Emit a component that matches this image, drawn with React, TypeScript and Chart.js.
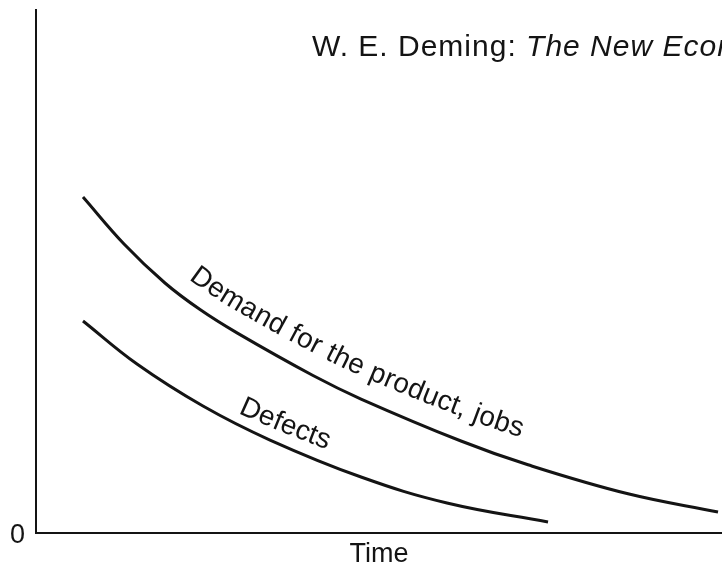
import React, { useEffect, useRef } from "react";
import { Chart, registerables } from "chart.js";

Chart.register(...registerables);

// ---- data ----
const demandX = [6.85, 12.83, 18.8, 23.91, 29.3, 40.38, 47.38, 61.95, 71.72, 86.3, 99.42];
const demandY = [64.24, 55.26, 47.8, 42.72, 38.26, 30.11, 25.62, 17.59, 13.04, 7.5, 4.02];
const defectsX = [6.85, 14.72, 24.34, 34.11, 47.38, 59.91, 74.64];
const defectsY = [40.54, 32.31, 24.28, 17.78, 10.71, 5.74, 2.1];
const seriesLabels = ["Demand for the product, jobs", "Defects"];
const yTickLabels = ["0"];
const xAxisTitle = "Time";
const titleNormal = "W. E. Deming: ";
const titleItalic = "The New Economics";

const FONT = "'Liberation Sans', Arial, Helvetica, sans-serif";
const INK = "#141414";

// label placement along the curves (start in data x, offset from curve in px)
const curveLabelCfg = [
  { startX: 22.2, d0: 18, d1: 24, size: 28, spacing: 0.3 },
  { startX: 29.4, d0: 11, d1: 14, size: 28, spacing: 0.2 },
];

const curveLabelPlugin = {
  id: "curveLabels",
  afterDatasetsDraw(chart: any) {
    const ctx = chart.ctx as CanvasRenderingContext2D;
    const xScale = chart.scales.x;
    chart.data.datasets.forEach((ds: any, i: number) => {
      const cfg = curveLabelCfg[i];
      if (!cfg) return;
      const pts = chart.getDatasetMeta(i).data as any[];
      const base: { x: number; y: number }[] = [];
      for (let k = 0; k < pts.length - 1; k++) {
        const a = pts[k];
        const b = pts[k + 1];
        const c1x = a.cp2x ?? a.x, c1y = a.cp2y ?? a.y;
        const c2x = b.cp1x ?? b.x, c2y = b.cp1y ?? b.y;
        for (let s = 0; s < 40; s++) {
          const t = s / 40;
          const mt = 1 - t;
          base.push({
            x: mt * mt * mt * a.x + 3 * mt * mt * t * c1x + 3 * mt * t * t * c2x + t * t * t * b.x,
            y: mt * mt * mt * a.y + 3 * mt * mt * t * c1y + 3 * mt * t * t * c2y + t * t * t * b.y,
          });
        }
      }
      const last = pts[pts.length - 1];
      base.push({ x: last.x, y: last.y });

      const text: string = ds.label;
      ctx.save();
      ctx.font = `${cfg.size}px ${FONT}`;
      const totalW = ctx.measureText(text).width;
      const startPx = xScale.getPixelForValue(cfg.startX);
      const off: { x: number; y: number }[] = [];
      for (let k = 0; k < base.length; k++) {
        const p0 = base[Math.max(0, k - 1)];
        const p1 = base[Math.min(base.length - 1, k + 1)];
        let tx = p1.x - p0.x, ty = p1.y - p0.y;
        const len = Math.hypot(tx, ty) || 1;
        tx /= len; ty /= len;
        const nx = ty, ny = -tx;
        const frac = Math.min(1, Math.max(0, (base[k].x - startPx) / (totalW * 0.9)));
        const d = cfg.d0 + (cfg.d1 - cfg.d0) * frac;
        off.push({ x: base[k].x + nx * d, y: base[k].y + ny * d });
      }
      const cum: number[] = [0];
      for (let k = 1; k < off.length; k++) {
        cum.push(cum[k - 1] + Math.hypot(off[k].x - off[k - 1].x, off[k].y - off[k - 1].y));
      }
      let startIdx = off.findIndex((p) => p.x >= startPx);
      if (startIdx < 0) startIdx = 0;
      const s0 = cum[startIdx];
      const at = (s: number) => {
        let k = 1;
        while (k < cum.length - 1 && cum[k] < s) k++;
        const a = off[Math.max(0, k - 2)], b = off[Math.min(off.length - 1, k + 1)];
        const a1 = off[k - 1], b1 = off[k];
        const seg = cum[k] - cum[k - 1] || 1;
        const t = Math.min(1, Math.max(0, (s - cum[k - 1]) / seg));
        return { x: a1.x + (b1.x - a1.x) * t, y: a1.y + (b1.y - a1.y) * t, ang: Math.atan2(b.y - a.y, b.x - a.x) };
      };
      ctx.fillStyle = INK;
      ctx.textAlign = "center";
      ctx.textBaseline = "alphabetic";
      let s = s0;
      for (const ch of text) {
        const w = ctx.measureText(ch).width + cfg.spacing;
        const p = at(s + w / 2);
        ctx.save();
        ctx.translate(p.x, p.y);
        ctx.rotate(p.ang);
        ctx.fillText(ch, 0, 0);
        ctx.restore();
        s += w;
      }
      ctx.restore();
    });
  },
};

const titlePlugin = {
  id: "mixedTitle",
  afterDraw(chart: any) {
    const ctx = chart.ctx as any;
    ctx.save();
    ctx.fillStyle = INK;
    ctx.textAlign = "left";
    ctx.textBaseline = "alphabetic";
    ctx.letterSpacing = "1px";
    const x = 312;
    const y = 56;
    ctx.font = `30px ${FONT}`;
    ctx.fillText(titleNormal, x, y);
    const w = ctx.measureText(titleNormal).width;
    ctx.font = `italic 30px ${FONT}`;
    ctx.fillText(titleItalic, x + w, y);
    ctx.restore();
  },
};

export default function App() {
  const ref = useRef<HTMLCanvasElement | null>(null);
  useEffect(() => {
    if (!ref.current) return;
    const toPts = (xs: number[], ys: number[]) => xs.map((x, i) => ({ x, y: ys[i] }));
    const chart = new Chart(ref.current, {
      type: "line",
      data: {
        datasets: [
          {
            label: seriesLabels[0],
            data: toPts(demandX, demandY),
            borderColor: INK,
            borderWidth: 3,
            pointRadius: 0,
            fill: false,
            tension: 0.4,
          },
          {
            label: seriesLabels[1],
            data: toPts(defectsX, defectsY),
            borderColor: INK,
            borderWidth: 3,
            pointRadius: 0,
            fill: false,
            tension: 0.4,
          },
        ],
      },
      options: {
        responsive: false,
        animation: false,
        layout: { padding: { top: 10, left: 0, right: 0, bottom: 0 } },
        plugins: {
          legend: { display: false },
          title: { display: false },
          tooltip: { enabled: false },
        },
        scales: {
          x: {
            type: "linear",
            min: 0,
            max: 100,
            grid: { display: false, drawTicks: false },
            border: { display: true, color: INK, width: 2 },
            ticks: { display: false },
            title: {
              display: true,
              text: xAxisTitle,
              color: INK,
              font: { family: FONT, size: 27, lineHeight: 1 },
              padding: { top: 0, bottom: 0 },
            },
            afterFit: (scale: any) => {
              scale.height = 35;
              scale.paddingLeft = 0;
              scale.paddingRight = 0;
              scale.paddingTop = 0;
              scale.paddingBottom = 0;
            },
          },
          y: {
            type: "linear",
            min: 0,
            max: 100,
            grid: { display: false, drawTicks: false },
            border: { display: true, color: INK, width: 2 },
            afterBuildTicks: (scale: any) => {
              scale.ticks = [{ value: 0 }];
            },
            ticks: {
              padding: 11,
              labelOffset: 3,
              color: INK,
              font: { family: FONT, size: 27 },
              callback: (v: any) => (v === 0 ? yTickLabels[0] : ""),
            },
            afterFit: (scale: any) => {
              scale.width = 36;
              scale.paddingTop = 0;
              scale.paddingBottom = 0;
              scale.paddingLeft = 0;
              scale.paddingRight = 0;
            },
          },
        },
      },
      plugins: [curveLabelPlugin, titlePlugin],
    } as any);
    return () => chart.destroy();
  }, []);
  return (
    <div style={{ position: "absolute", left: 0, top: 0, width: 722, height: 568, background: "#fff" }}>
      <canvas ref={ref} width={722} height={568} />
    </div>
  );
}
